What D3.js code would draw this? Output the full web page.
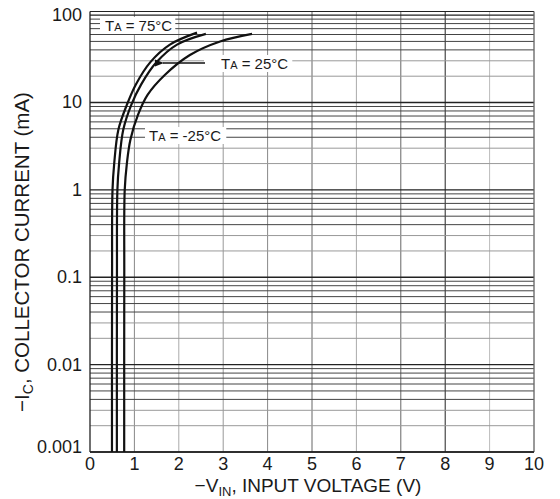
<!DOCTYPE html>
<html>
<head>
<meta charset="utf-8">
<script src="https://cdn.jsdelivr.net/npm/d3@7"></script>
<style>
	body { margin: 0; background: #fff; }
	text { font-family: "Liberation Sans", Arial, sans-serif; fill: #1a1a1a; }
</style>
</head>
<body>
<script>
// axis ticks
const voltTicks = [0, 1, 2, 3, 4, 5, 6, 7, 8, 9, 10];
const currentTicks = [0.001, 0.01, 0.1, 1, 10, 100];
const currentTickLabels = ["0.001", "0.01", "0.1", "1", "10", "100"];

// input voltage (V) vs collector current (mA), one pair per temperature
const volt75 = [0.495, 0.497, 0.507, 0.545, 0.64, 0.83, 1.03, 1.36, 1.80, 2.41];
const amp75 = [0.001, 0.1, 1.0, 2.0, 4.9, 9.4, 16, 29, 46, 63];
const volt25 = [0.605, 0.607, 0.617, 0.655, 0.75, 0.93, 1.15, 1.50, 1.96, 2.61];
const amp25 = [0.001, 0.1, 1.0, 2.0, 4.9, 9.4, 16, 29, 46, 61];
const voltM25 = [0.77, 0.772, 0.782, 0.83, 0.91, 1.08, 1.30, 1.69, 2.25, 2.93, 3.65];
const ampM25 = [0.001, 0.1, 1.0, 2.0, 3.75, 7.2, 12.3, 20.8, 35, 50, 61];

const width = 560, height = 499;
const margin = {top: 11.5, right: 26, bottom: 47, left: 90};

const svg = d3.select("body").append("svg")
	.attr("width", width)
	.attr("height", height);

const x = d3.scaleLinear().domain([0, 10]).range([margin.left, width - margin.right]);
const y = d3.scaleLog().domain([0.001, 110]).range([height - margin.bottom, margin.top]);

// vertical grid, shades vary a little like the printed sheet
const vShade = ["#000", "#888", "#aaa", "#999", "#888", "#666", "#aaa", "#666", "#222", "#bbb", "#777"];
svg.append("g")
	.selectAll("line")
	.data(voltTicks.slice(1))
	.join("line")
	.attr("x1", d => x(d)).attr("x2", d => x(d))
	.attr("y1", y.range()[1]).attr("y2", y.range()[0])
	.attr("stroke", (d, i) => vShade[i + 1])
	.attr("stroke-width", 1);

// horizontal grid: every 1..9 step within each decade
const hLines = [];
currentTicks.slice(0, -1).forEach(dec => {
	for (let k = 1; k <= 9; k++) hLines.push({v: dec * k, k: k});
});
hLines.push({v: 100, k: 1});
svg.append("g")
	.selectAll("line")
	.data(hLines)
	.join("line")
	.attr("x1", x.range()[0]).attr("x2", x.range()[1])
	.attr("y1", d => y(d.v)).attr("y2", d => y(d.v))
	.attr("stroke", d => d.k === 1 ? "#222" : (d.k <= 3 ? "#999" : "#444"))
	.attr("stroke-width", d => d.k === 1 ? 1.4 : 1);

// frame
svg.append("line")
	.attr("x1", x.range()[0]).attr("x2", x.range()[1])
	.attr("y1", y.range()[1]).attr("y2", y.range()[1])
	.attr("stroke", "#222");
svg.append("line")
	.attr("x1", x.range()[1]).attr("x2", x.range()[1])
	.attr("y1", y.range()[1]).attr("y2", y.range()[0])
	.attr("stroke", "#777");
svg.append("line")
	.attr("x1", x.range()[0]).attr("x2", x.range()[1])
	.attr("y1", y.range()[0]).attr("y2", y.range()[0])
	.attr("stroke", "#222").attr("stroke-width", 1.3);
svg.append("line")
	.attr("x1", x.range()[0]).attr("x2", x.range()[0])
	.attr("y1", y.range()[1]).attr("y2", y.range()[0])
	.attr("stroke", "#222").attr("stroke-width", 1.3);

// tick labels
svg.append("g")
	.selectAll("text")
	.data(voltTicks)
	.join("text")
	.attr("x", d => x(d))
	.attr("y", height - margin.bottom + 18)
	.attr("text-anchor", "middle")
	.attr("font-size", 18)
	.text(d => d);

svg.append("g")
	.selectAll("text")
	.data(currentTicks)
	.join("text")
	.attr("x", margin.left - 8)
	.attr("y", d => y(d) + (d === 0.001 ? 1 : 6))
	.attr("text-anchor", "end")
	.attr("font-size", 18)
	.text((d, i) => currentTickLabels[i]);

// axis titles
const xTitle = svg.append("text")
	.attr("x", (x.range()[0] + x.range()[1]) / 2 - 4)
	.attr("y", height - 7)
	.attr("text-anchor", "middle")
	.attr("font-size", 19);
xTitle.append("tspan").text("\u2212V");
xTitle.append("tspan").attr("font-size", 13).attr("dy", 4).text("IN");
xTitle.append("tspan").attr("dy", -4).text(", INPUT VOLTAGE (V)");

const yTitle = svg.append("text")
	.attr("transform", `translate(29, ${252}) rotate(-90)`)
	.attr("text-anchor", "middle")
	.attr("font-size", 20.5);
yTitle.append("tspan").text("\u2212I");
yTitle.append("tspan").attr("font-size", 14).attr("dy", 4).text("C");
yTitle.append("tspan").attr("dy", -4).text(", COLLECTOR CURRENT (mA)");

// curves
const line = d3.line()
	.x(d => x(d[0]))
	.y(d => y(d[1]))
	.curve(d3.curveCatmullRom.alpha(0.5));

const series = [
	{v: volt75, a: amp75},
	{v: volt25, a: amp25},
	{v: voltM25, a: ampM25}
];
svg.append("g")
	.selectAll("path")
	.data(series)
	.join("path")
	.attr("d", s => line(s.v.map((v, i) => [v, s.a[i]])))
	.attr("fill", "none")
	.attr("stroke", "#111")
	.attr("stroke-width", 2.2);

// temperature labels on white patches
function tempLabel(px, py, temp, padL, padR) {
	const g = svg.append("g");
	const t = g.append("text")
		.attr("x", px)
		.attr("y", py)
		.attr("font-size", 15);
	t.append("tspan").text("T");
	t.append("tspan").attr("font-size", 11).text("A");
	t.append("tspan").text(` = ${temp}\u00b0C`);
	const b = t.node().getBBox();
	g.insert("rect", "text")
		.attr("x", b.x - padL)
		.attr("y", b.y)
		.attr("width", b.width + padL + padR)
		.attr("height", b.height)
		.attr("fill", "#fff");
}
tempLabel(105, 31, 75, 5, 3);
tempLabel(221, 69, 25, 17, 4);
tempLabel(149, 141, -25, 4, 5);

// arrow pointing at the 25°C curve
svg.append("defs").append("marker")
	.attr("id", "head")
	.attr("viewBox", "0 0 10 10")
	.attr("refX", 1).attr("refY", 5)
	.attr("markerWidth", 7).attr("markerHeight", 7)
	.attr("orient", "auto-start-reverse")
	.append("path")
	.attr("d", "M0,5L10,1L10,9Z")
	.attr("fill", "#111");
svg.append("line")
	.attr("x1", 205).attr("y1", 63)
	.attr("x2", 163).attr("y2", 63)
	.attr("stroke", "#111")
	.attr("stroke-width", 1.3)
	.attr("marker-end", "url(#head)");
</script>
</body>
</html>
